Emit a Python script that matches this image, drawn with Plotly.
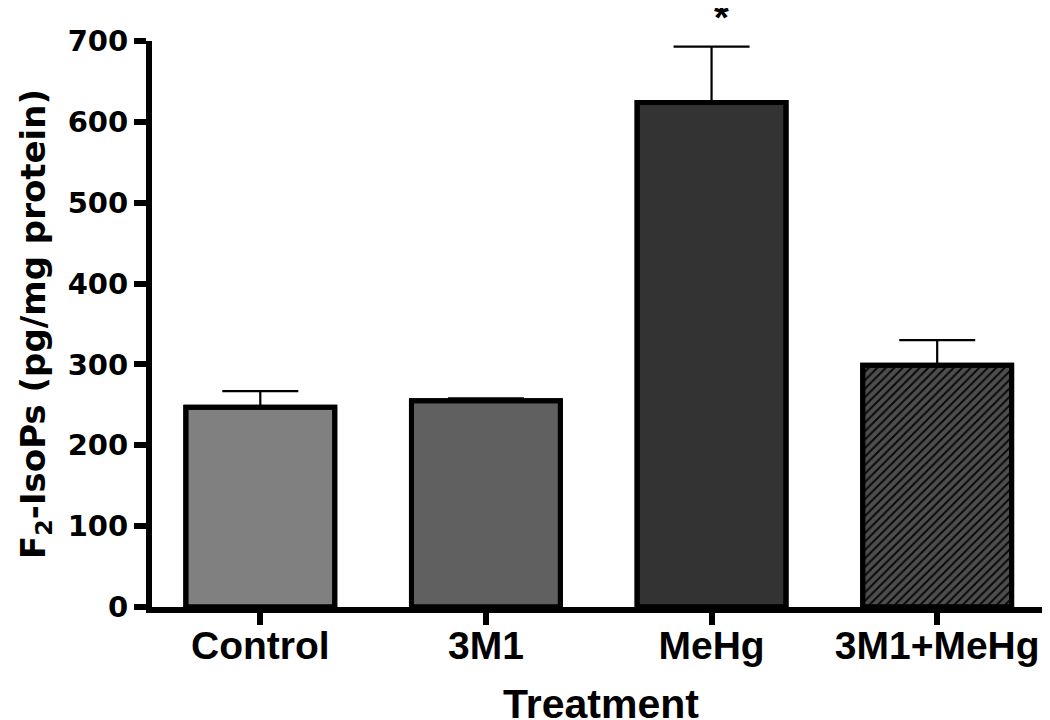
import plotly.graph_objects as go

categories = ["Control", "3M1", "MeHg", "3M1+MeHg"]
means = [247, 255, 624, 299]
sem_upper = [20, 3, 69, 31]
fill_colors = ["#808080", "#606060", "#333333", "#4e4e4e"]
patterns = ["", "", "", "/"]
significance = ["", "", "*", ""]
y_ticks = [0, 100, 200, 300, 400, 500, 600, 700]
x_title = "Treatment"
y_title = "F<sub>2</sub>-IsoPs (pg/mg protein)"

fig = go.Figure()
# solid fills with outlines and error bars
fig.add_trace(go.Bar(
    x=categories, y=means,
    width=0.66,
    marker=dict(color=fill_colors, line=dict(color="black", width=5)),
    error_y=dict(type="data", array=sem_upper, arrayminus=[0]*4,
                 color="black", thickness=2.2, width=38, symmetric=False),
    showlegend=False, hoverinfo="skip",
))
# hatch overlay
fig.add_trace(go.Bar(
    x=categories, y=means,
    width=0.66,
    marker=dict(
        color="rgba(0,0,0,0)",
        line=dict(color="black", width=5),
        pattern=dict(shape=patterns, fgcolor="#0a0a0a", bgcolor="rgba(0,0,0,0)",
                     size=6, solidity=0.35, fillmode="replace"),
    ),
    showlegend=False,
))

for c, m, e, s in zip(categories, means, sem_upper, significance):
    if s:
        fig.add_annotation(x=c, y=m + e, text="<b>*</b>", showarrow=False,
                           xshift=10, yshift=6, yanchor="bottom",
                           font=dict(size=38, color="black", family="Liberation Sans"))

fig.add_annotation(x=0.5, y=0, xref="paper", yref="paper", text="<b>" + x_title + "</b>",
                   showarrow=False, yanchor="top", yshift=-72,
                   font=dict(family="Liberation Sans", size=41, color="black"))

fig.update_layout(
    width=1042, height=712,
    margin=dict(l=144, r=0, t=33, b=113, autoexpand=False),
    paper_bgcolor="white", plot_bgcolor="white",
    barmode="overlay",
    xaxis=dict(
        range=[-0.48, 3.5], showline=True, linecolor="black", linewidth=6,
        ticks="outside", ticklen=12, tickwidth=6, tickcolor="black",
        ticklabelstandoff=-13, automargin=False,
        tickfont=dict(family="Liberation Sans", size=39, color="black", weight="bold"),
        showgrid=False, zeroline=False, fixedrange=True,
    ),
    yaxis=dict(
        range=[0, 700], tickvals=y_ticks, showline=True, linecolor="black", linewidth=6,
        ticks="outside", ticklen=12, tickwidth=6, tickcolor="black", automargin=False,
        tickfont=dict(family="DejaVu Sans", size=29, color="black", weight="bold"),
        title=dict(text="<b>" + y_title + "</b>", standoff=14,
                   font=dict(family="DejaVu Sans", size=34, color="black")),
        showgrid=False, zeroline=False,
    ),
)

fig.write_html("out.html")
